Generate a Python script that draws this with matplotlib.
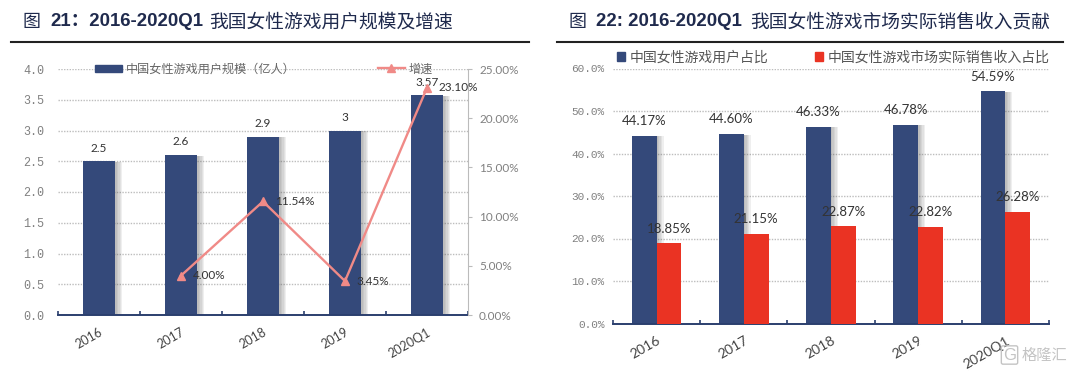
import matplotlib
matplotlib.use("Agg")
import matplotlib.pyplot as plt
import matplotlib.patheffects as pe
from matplotlib.lines import Line2D
from matplotlib.patches import Patch

W, H = 1075, 371
CJK = ["Noto Sans CJK SC", "DejaVu Sans"]
NAVY = "#34497A"
RED = "#EA3323"
PINK = "#F08A87"
TITLE_COL = "#1F2A4D"
GRAY = "#808080"
LABEL = "#333333"

# left chart
years = ["2016", "2017", "2018", "2019", "2020Q1"]
users = [2.5, 2.6, 2.9, 3, 3.57]
user_labels = ["2.5", "2.6", "2.9", "3", "3.57"]
growth = [4.00, 11.54, 3.45, 23.10]
growth_labels = ["4.00%", "11.54%", "3.45%", "23.10%"]
left_ticks = [0, 0.5, 1, 1.5, 2, 2.5, 3, 3.5, 4]
right_ticks = [0, 5, 10, 15, 20, 25]

# right chart
user_share = [44.17, 44.60, 46.33, 46.78, 54.59]
revenue_share = [18.85, 21.15, 22.87, 22.82, 26.28]
share_ticks = [0, 10, 20, 30, 40, 50, 60]


def make_axes(fig, x0, x1, ytop, ybottom):
    return fig.add_axes([x0 / W, 1 - ybottom / H, (x1 - x0) / W, (ybottom - ytop) / H])


def fig_text(fig, x, y, s, **kw):
    fig.text(x / W, 1 - y / H, s, va="center", **kw)


def add_shadow(bars):
    # no blur in matplotlib, so stack a few faint offset copies
    effects = [pe.SimplePatchShadow(offset=(dx, -0.5), shadow_rgbFace="#555555", alpha=0.09)
               for dx in (5, 4, 3, 2, 1)]
    for b in bars:
        b.set_path_effects(effects + [pe.Normal()])


def style_axes(ax, ticks, labels, size, pad):
    ax.set_yticks(ticks)
    ax.set_yticklabels(labels, family="Liberation Mono", color=GRAY, fontsize=size)
    ax.yaxis.grid(True, linestyle=(0, (1, 1)), color="#BDBDBD", linewidth=1)
    ax.set_axisbelow(True)
    for s in ["top", "left", "right"]:
        ax.spines[s].set_visible(False)
    ax.spines["bottom"].set_color("#2B3F6E")
    ax.spines["bottom"].set_linewidth(1.4)
    ax.tick_params(axis="y", length=0, pad=pad)
    ax.set_xlim(-0.5, 4.5)
    ax.set_xticks([i - 0.5 for i in range(6)], minor=True)
    ax.set_xticks(range(5))
    ax.set_xticklabels(years, rotation=30, ha="right", rotation_mode="anchor",
                       family="Lato", color="#444444")
    ax.tick_params(axis="x", which="major", length=0, pad=8)
    ax.tick_params(axis="x", which="minor", direction="in", length=3, color="#2B3F6E", width=1.2)


def single_legend(ax, handle, x, y, size, color, **kw):
    return ax.legend(handles=[handle], prop={"family": CJK, "size": size}, labelcolor=color,
                     frameon=False, loc="center left", bbox_to_anchor=(x, y), borderpad=0,
                     borderaxespad=0, **kw)


fig = plt.figure(figsize=(W / 100, H / 100), dpi=100)

# rules under the titles
fig.add_artist(Line2D([11 / W, 529 / W], [1 - 41.5 / H] * 2, color="#222222", lw=1.5))
fig.add_artist(Line2D([557 / W, 1063 / W], [1 - 41.5 / H] * 2, color="#222222", lw=1.5))

# titles
fig_text(fig, 23, 22, "图", family=CJK, fontsize=13, color=TITLE_COL)
fig_text(fig, 50, 22, "21：2016-2020Q1", family=["Liberation Sans"] + CJK, fontweight="bold",
         fontsize=13.4, color=TITLE_COL)
fig_text(fig, 209, 22, "我国女性游戏用户规模及增速", family=CJK, fontsize=13.5, color=TITLE_COL)
fig_text(fig, 569, 22, "图", family=CJK, fontsize=13, color=TITLE_COL)
fig_text(fig, 596, 22, "22: 2016-2020Q1", family="Liberation Sans", fontweight="bold",
         fontsize=13.4, color=TITLE_COL)
fig_text(fig, 750, 22, "我国女性游戏市场实际销售收入贡献", family=CJK, fontsize=13.5, color=TITLE_COL)

# ---------- left chart ----------
ax = make_axes(fig, 58, 468, 69, 315)
bars = ax.bar(range(5), users, width=0.4, color=NAVY, zorder=2)
add_shadow(bars)
ax.set_ylim(0, 4)
style_axes(ax, left_ticks, [f"{v:.1f}" for v in left_ticks], 8.5, 10)
ax.tick_params(axis="x", labelsize=9)
for i, v in enumerate(users):
    ax.annotate(user_labels[i], (i, v), xytext=(0, 9.5), textcoords="offset points",
                ha="center", va="center", family="Lato", fontsize=8.5, color=LABEL, zorder=6)

ax2 = ax.twinx()
ax2.plot(range(1, 5), growth, color=PINK, lw=1.7, marker="^", ms=6, zorder=5)
ax2.set_ylim(0, 25)
ax2.set_yticks(right_ticks)
ax2.set_yticklabels([f"{v:.2f}%" for v in right_ticks], family="Lato", color=GRAY, fontsize=8.5)
ax2.tick_params(axis="y", length=3, color="#BBBBBB", pad=5, direction="out")
for s in ["top", "left", "bottom"]:
    ax2.spines[s].set_visible(False)
ax2.spines["right"].set_color("#BBBBBB")
for i, v in enumerate(growth):
    ax2.annotate(growth_labels[i], (i + 1, v), xytext=(8.5, 0), textcoords="offset points",
                 ha="left", va="center", family="Lato", fontsize=8.5, color=LABEL)

left_leg = single_legend(ax2, Patch(color=NAVY, label="中国女性游戏用户规模（亿人）"),
                         (95 - 58) / 410, 1.0, 8.7, "#666666",
                         handlelength=2.2, handleheight=0.5, handletextpad=0.35)
ax2.add_artist(left_leg)
single_legend(ax2, Line2D([], [], color=PINK, lw=1.7, marker="^", ms=6, label="增速"),
              (378 - 58) / 410, 1.0, 8.7, "#666666", handlelength=2.2, handletextpad=0.35)

# ---------- right chart ----------
ax3 = make_axes(fig, 613, 1049, 68.5, 323.5)
w = 0.285
x = list(range(5))
b1 = ax3.bar([i - w / 2 for i in x], user_share, width=w, color=NAVY, zorder=2)
add_shadow(b1)
b2 = ax3.bar([i + w / 2 for i in x], revenue_share, width=w, color=RED, zorder=3)
ax3.set_ylim(0, 60)
style_axes(ax3, share_ticks, [f"{v:.1f}%" for v in share_ticks], 8, 6)
ax3.tick_params(axis="x", labelsize=10)
for i in x:
    ax3.annotate(f"{user_share[i]:.2f}%", (i - w / 2, user_share[i]), xytext=(0, 10.5),
                 textcoords="offset points", ha="center", va="center", family="Lato",
                 fontsize=9.5, color=LABEL, zorder=6)
    ax3.annotate(f"{revenue_share[i]:.2f}%", (i + w / 2, revenue_share[i]), xytext=(0, 10.5),
                 textcoords="offset points", ha="center", va="center", family="Lato",
                 fontsize=9.5, color=LABEL, zorder=6)

right_leg = single_legend(ax3, Patch(color=NAVY, label="中国女性游戏用户占比"),
                          (617 - 613) / 436, 1.044, 10, "#555555",
                          handlelength=0.55, handleheight=0.55, handletextpad=0.35)
ax3.add_artist(right_leg)
single_legend(ax3, Patch(color=RED, label="中国女性游戏市场实际销售收入占比"),
              (815 - 613) / 436, 1.044, 10, "#555555",
              handlelength=0.55, handleheight=0.55, handletextpad=0.35)

# watermark
fig_text(fig, 1022, 355, "格隆汇", family=CJK, fontsize=11, color="#C4C4C4")
fig_text(fig, 1003, 355, "G", family="Liberation Sans", fontsize=12, color="#C4C4C4",
         bbox=dict(facecolor="none", edgecolor="#C4C4C4", boxstyle="round,pad=0.1", lw=1))

fig.savefig("out.png", dpi=100)
